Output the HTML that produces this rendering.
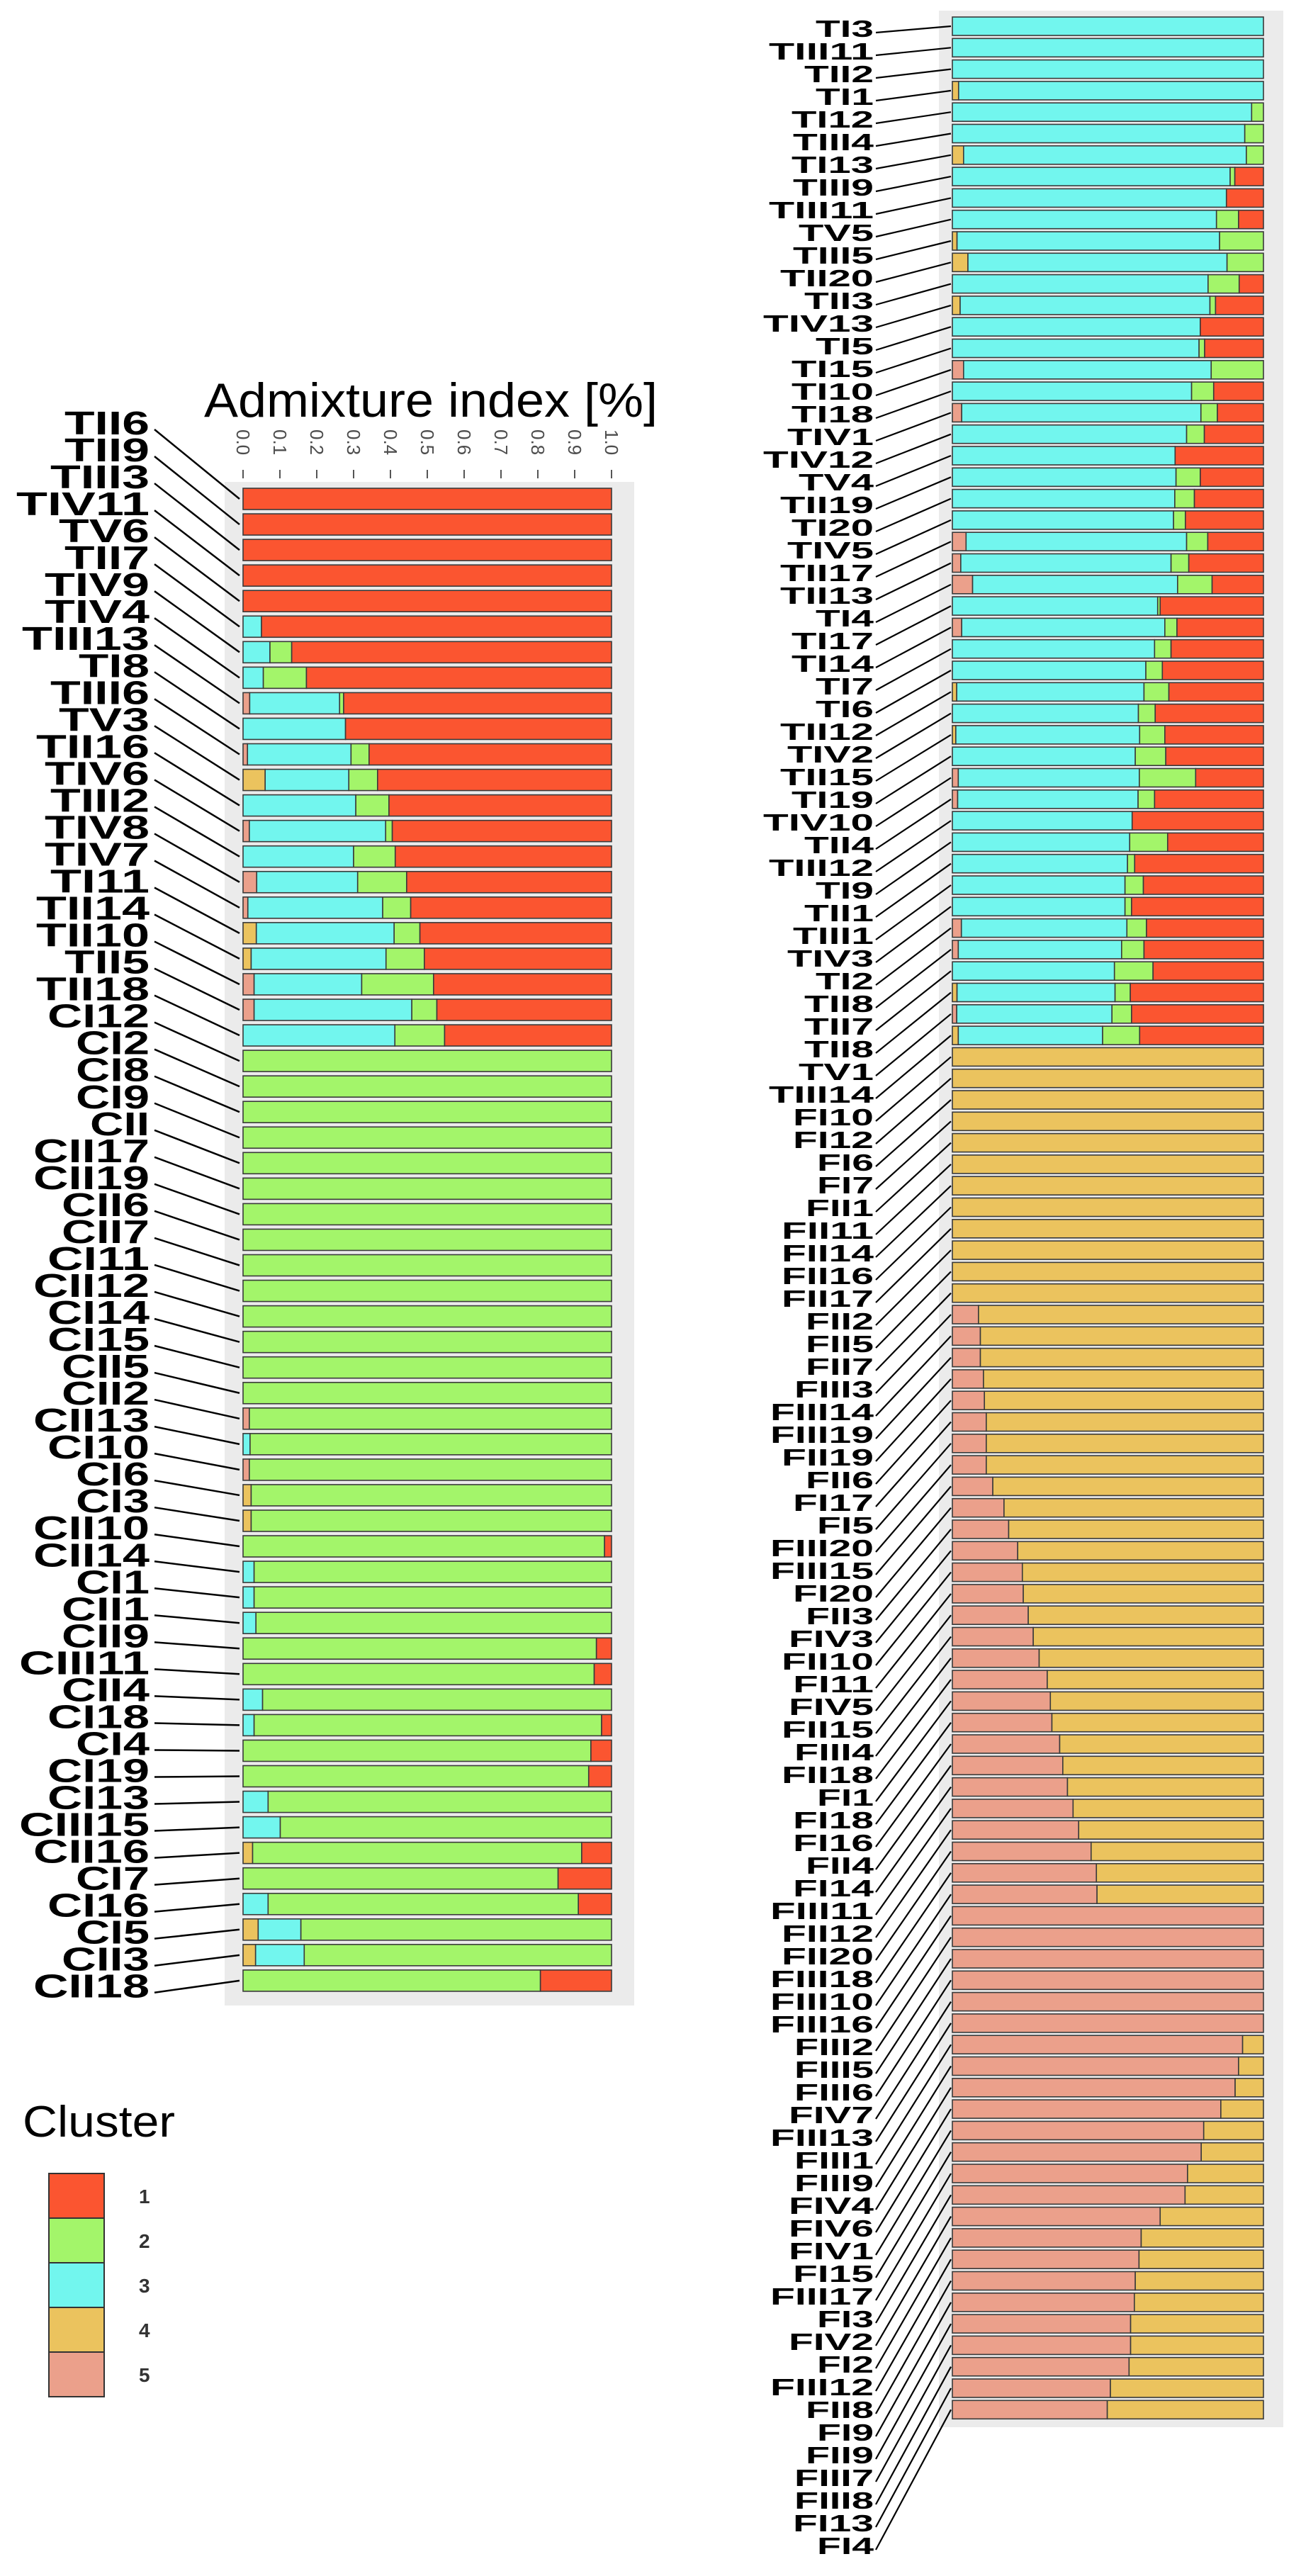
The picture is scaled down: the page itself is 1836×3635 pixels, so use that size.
<!DOCTYPE html>
<html><head><meta charset="utf-8">
<style>
html,body{margin:0;padding:0;background:#fff;}
svg{display:block;}
</style></head>
<body>
<svg id="chart" xmlns="http://www.w3.org/2000/svg" width="1836" height="3635" viewBox="0 0 1836 3635">
  <rect x="0" y="0" width="1836" height="3635" fill="#fff"/>
  <rect x="317" y="680" width="578" height="2150" fill="#ebebeb"/>
  <rect x="1325" y="15" width="486" height="3410" fill="#ebebeb"/>
  <text x="288" y="588" font-family="Liberation Sans, sans-serif" font-size="68" textLength="640" lengthAdjust="spacingAndGlyphs" fill="#000">Admixture index [%]</text>
  <g id="leftTicks"></g>
  <g id="leftBars"></g>
  <g id="rightBars"></g>
  <g id="leftLabels"></g>
  <g id="rightLabels"></g>
  <g id="legend">
    <text x="32" y="3015" font-family="Liberation Sans, sans-serif" font-size="62" textLength="215" lengthAdjust="spacingAndGlyphs" fill="#000">Cluster</text>
  </g>
</svg>
<script>
const clusterNames = ["1","2","3","4","5"];
const clusterColors = ["#fb5530","#a3f56a","#72f6ee","#ebc35e","#eba08b"];
const tickLabels = ["0.0","0.1","0.2","0.3","0.4","0.5","0.6","0.7","0.8","0.9","1.0"];

const leftSamples = ["TII6","TII9","TIII3","TIV11","TV6","TII7","TIV9","TIV4","TIII13","TI8","TIII6","TV3","TII16","TIV6","TIII2","TIV8","TIV7","TI11","TII14","TII10","TII5","TII18","CI12","CI2","CI8","CI9","CII","CII17","CII19","CII6","CII7","CI11","CII12","CI14","CI15","CII5","CII2","CII13","CI10","CI6","CI3","CII10","CII14","CI1","CII1","CII9","CIII11","CII4","CI18","CI4","CI19","CI13","CIII15","CII16","CI7","CI16","CI5","CII3","CII18"];
const left_c5 = [0,0,0,0,0,0,0,0,.018,0,.012,0,0,.017,0,.037,.013,0,0,.03,.03,0,0,0,0,0,0,0,0,0,0,0,0,0,0,0,.017,0,.017,0,0,0,0,0,0,0,0,0,0,0,0,0,0,0,0,0,0,0,0];
const left_c4 = [0,0,0,0,0,0,0,0,0,0,0,.06,0,0,0,0,0,.036,.022,0,0,0,0,0,0,0,0,0,0,0,0,0,0,0,0,0,0,0,0,.022,.022,0,0,0,0,0,0,0,0,0,0,0,0,.026,0,0,.041,.034,0];
const left_c3 = [0,0,0,0,0,.05,.073,.055,.244,.278,.281,.227,.306,.37,.3,.274,.366,.374,.366,.292,.428,.412,0,0,0,0,0,0,0,0,0,0,0,0,0,0,0,.019,0,0,0,0,.03,.03,.035,0,0,.053,.03,0,0,.068,.101,0,0,.068,.116,.132,0];
const left_c2 = [0,0,0,0,0,0,.059,.117,.011,0,.049,.078,.09,.018,.113,.133,.076,.07,.104,.195,.068,.135,1,1,1,1,1,1,1,1,1,1,1,1,1,1,.983,.981,.983,.978,.978,.981,.97,.97,.965,.959,.953,.947,.943,.944,.938,.932,.899,.893,.855,.842,.843,.834,.807];
const left_c1 = [1,1,1,1,1,.95,.868,.828,.727,.722,.658,.635,.604,.595,.587,.556,.545,.52,.508,.483,.474,.453,0,0,0,0,0,0,0,0,0,0,0,0,0,0,0,0,0,0,0,.019,0,0,0,.041,.047,0,.027,.056,.062,0,0,.081,.145,.09,0,0,.193];

const rightSamples = ["TI3","TIII11","TII2","TI1","TI12","TIII4","TI13","TIII9","TIII11","TV5","TIII5","TII20","TII3","TIV13","TI5","TI15","TI10","TI18","TIV1","TIV12","TV4","TII19","TI20","TIV5","TII17","TII13","TI4","TI17","TI14","TI7","TI6","TII12","TIV2","TII15","TI19","TIV10","TII4","TIII12","TI9","TII1","TIII1","TIV3","TI2","TII8","TII7","TII8","TV1","TIII14","FI10","FI12","FI6","FI7","FII1","FII11","FII14","FII16","FII17","FII2","FII5","FII7","FIII3","FIII14","FIII19","FII19","FII6","FI17","FI5","FIII20","FIII15","FI20","FII3","FIV3","FII10","FI11","FIV5","FII15","FIII4","FII18","FI1","FI18","FI16","FII4","FI14","FIII11","FII12","FII20","FIII18","FIII10","FIII16","FIII2","FIII5","FIII6","FIV7","FIII13","FIII1","FIII9","FIV4","FIV6","FIV1","FI15","FIII17","FI3","FIV2","FI2","FIII12","FII8","FI9","FII9","FIII7","FIII8","FI13","FI4"];
const right_c5 = [0,0,0,0,0,0,0,0,0,0,0,0,0,0,0,0,.036,0,.03,0,0,0,0,0,.044,.027,.065,0,.03,0,0,0,0,0,0,.019,.017,0,0,0,0,0,.029,.019,0,0,.014,0,
  0,0,0,0,0,0,0,0,0,0,0,0,
  .084,.09,.09,.1,.103,.109,.109,.109,.13,.166,.181,.21,.225,.228,.244,.26,.279,.305,.315,.32,.345,.355,.37,.388,.406,.446,.463,.465,1,1,1,1,1,1,.933,.92,.909,.863,.808,.8,.756,.748,.668,.607,.6,.588,.585,.573,.573,.568,.508,.498];
const right_c4 = [0,0,0,.02,0,0,.036,0,0,0,.015,.05,0,.025,0,0,0,0,0,0,0,0,0,0,0,0,0,0,0,0,0,.014,0,.011,0,0,0,0,0,0,0,0,0,0,0,.015,0,.019,
  1,1,1,1,1,1,1,1,1,1,1,1,
  .916,.91,.91,.9,.897,.891,.891,.891,.87,.834,.819,.79,.775,.772,.756,.74,.721,.695,.685,.68,.655,.645,.63,.612,.594,.554,.537,.535,0,0,0,0,0,0,.067,.08,.091,.137,.192,.2,.244,.252,.332,.393,.4,.412,.415,.427,.427,.432,.492,.502];
const right_c3 = [1,1,1,.98,.962,.94,.909,.893,.881,.849,.844,.833,.822,.803,.797,.793,.796,.769,.769,.753,.716,.719,.715,.711,.709,.676,.659,.66,.653,.65,.622,.602,.598,.591,.588,.582,.58,.578,.57,.563,.555,.555,.532,.525,.521,.508,.499,.464,
  0,0,0,0,0,0,0,0,0,0,0,0,
  0,0,0,0,0,0,0,0,0,0,0,0,0,0,0,0,0,0,0,0,0,0,0,0,0,0,0,0,0,0,0,0,0,0,0,0,0,0,0,0,0,0,0,0,0,0,0,0,0,0,0,0,0,0];
const right_c2 = [0,0,0,0,.038,.06,.055,.015,0,.071,.141,.117,.1,.018,0,.018,.168,.071,.053,.057,0,.078,.063,.038,.068,.057,.111,.008,.039,.053,.053,.08,.054,.081,.098,.181,.053,0,.122,.023,.059,.021,.063,.072,.124,.049,.063,.119,
  0,0,0,0,0,0,0,0,0,0,0,0,
  0,0,0,0,0,0,0,0,0,0,0,0,0,0,0,0,0,0,0,0,0,0,0,0,0,0,0,0,0,0,0,0,0,0,0,0,0,0,0,0,0,0,0,0,0,0,0,0,0,0,0,0,0,0];
const right_c1 = [0,0,0,0,0,0,0,.092,.119,.08,0,0,.078,.154,.203,.189,0,.16,.148,.19,.284,.203,.222,.251,.179,.24,.165,.332,.278,.297,.325,.304,.348,.317,.314,.218,.35,.422,.308,.414,.386,.424,.376,.384,.355,.428,.424,.398,
  0,0,0,0,0,0,0,0,0,0,0,0,
  0,0,0,0,0,0,0,0,0,0,0,0,0,0,0,0,0,0,0,0,0,0,0,0,0,0,0,0,0,0,0,0,0,0,0,0,0,0,0,0,0,0,0,0,0,0,0,0,0,0,0,0,0,0];

const NS = "http://www.w3.org/2000/svg";
function mk(tag, attrs, parent){
  const e = document.createElementNS(NS, tag);
  for (const k in attrs) e.setAttribute(k, attrs[k]);
  parent.appendChild(e);
  return e;
}
const L = {x0:343, x1:863, top:689, pitch:36.05, h:30};
const R = {x0:1344, x1:1783, top:24, pitch:30.3, h:26};
function xScale(ax, v){ return ax.x0 + v*(ax.x1-ax.x0); }
function yBand(ax, i){ return ax.top + i*ax.pitch; }

const tg = document.getElementById('leftTicks');
tickLabels.forEach((t,i)=>{
  const x = xScale(L, parseFloat(t));
  const ln = mk('line',{x1:x,y1:663,x2:x,y2:675,stroke:'#555','stroke-width':2}, tg);
  
  
  const tx = mk('text',{x:0,y:0,transform:`translate(${x-9},606) rotate(90)`,'font-family':'Liberation Sans, sans-serif','font-size':26,fill:'#4d4d4d'}, tg);
  tx.textContent = t;
  
  
});

function drawBars(ax, gId, series, n, prefix){
  const g = document.getElementById(gId);
  const order = [4,3,2,1,0];
  for (let i=0;i<n;i++){
    const y = yBand(ax,i);
    let cum = 0;
    order.forEach(k=>{
      const v = series[k][i];
      if (v<=0) return;
      const xa = xScale(ax,cum), xb = xScale(ax,cum+v);
      const r = mk('rect',{x:xa,y:y,width:Math.max(0,xb-xa),height:ax.h,fill:clusterColors[k],stroke:'#3a3a3a','stroke-width':1.6}, g);
      
      
      cum += v;
    });
  }
}
drawBars(L,'leftBars',[left_c1,left_c2,left_c3,left_c4,left_c5],leftSamples.length,'left');
drawBars(R,'rightBars',[right_c1,right_c2,right_c3,right_c4,right_c5],rightSamples.length,'right');

const cwL = {T:40,I:20,V:48,C:44,F:40};
const cwR = {T:32,I:16,V:40,C:35,F:30};
function textW(s, map, dig){ let w=0; for (const c of s) w += (map[c]!==undefined?map[c]:dig); return w; }

const lg = document.getElementById('leftLabels');
leftSamples.forEach((s,i)=>{
  const cy = 596 + i*38.03;
  const w = textW(s,cwL,40);
  const t = mk('text',{x:211-w,y:cy+17,'font-family':'Liberation Sans, sans-serif','font-size':46,'font-weight':'bold',fill:'#000',textLength:w,lengthAdjust:'spacingAndGlyphs'}, lg);
  t.textContent = s;
  
  
  const ln = mk('line',{x1:218,y1:cy+10,x2:338,y2:yBand(L,i)+L.h/2,stroke:'#000','stroke-width':2.5}, lg);
  
  
});

const rg = document.getElementById('rightLabels');
rightSamples.forEach((s,i)=>{
  const cy = 40 + i*32.0;
  const w = textW(s,cwR,34);
  const t = mk('text',{x:1233-w,y:cy+12,'font-family':'Liberation Sans, sans-serif','font-size':33,'font-weight':'bold',fill:'#000',textLength:w,lengthAdjust:'spacingAndGlyphs'}, rg);
  t.textContent = s;
  
  
  const ln = mk('line',{x1:1236,y1:cy+6,x2:1342,y2:yBand(R,i)+R.h/2,stroke:'#000','stroke-width':2.2}, rg);
  
  
});

const lgd = document.getElementById('legend');
clusterNames.forEach((c,i)=>{
  const y = 3067 + i*63;
  const r = mk('rect',{x:69,y:y,width:78,height:63,fill:clusterColors[i],stroke:'#333','stroke-width':2}, lgd);
  
  
  const t = mk('text',{x:196,y:y+42,'font-family':'Liberation Sans, sans-serif','font-size':28,'font-weight':'bold',fill:'#333'}, lgd);
  t.textContent = c;
  
  
});
</script>
</body></html>
